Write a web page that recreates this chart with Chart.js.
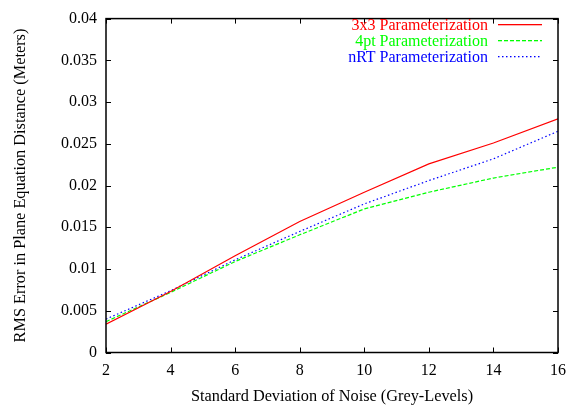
<!DOCTYPE html>
<html>
<head>
<meta charset="utf-8">
<script src="https://cdn.jsdelivr.net/npm/chart.js@4.4.0/dist/chart.umd.min.js"></script>
<style>
  html, body { margin: 0; padding: 0; background: #fff; }
  canvas { display: block; }
</style>
</head>
<body>
<canvas id="chart" width="575" height="407"></canvas>
<script>
// noise std dev (grey levels)
var noiseLevels = [2, 4, 6, 8, 10, 12, 14, 16];

// RMS error per parameterization
var err3x3 = [0.0034, 0.0073, 0.0116, 0.0157, 0.0192, 0.0226, 0.0251, 0.0280];
var err4pt = [0.0037, 0.0072, 0.0109, 0.0141, 0.0172, 0.0192, 0.0209, 0.0222];
var errNRT = [0.0040, 0.0074, 0.0111, 0.0145, 0.0178, 0.0206, 0.0232, 0.0265];

var seriesNames = ['3x3 Parameterization', '4pt Parameterization', 'nRT Parameterization'];
var seriesColors = ['#ff0000', '#00ff00', '#0000ff'];
var seriesDash = [[], [4, 2], [1.5, 2.5]];

var serif = '"Liberation Serif", "Times New Roman", serif';

function toPoints(ys) {
    return noiseLevels.map(function (x, i) { return { x: x, y: ys[i] }; });
}

// gnuplot-like frame, inward mirrored ticks and key
var gnuplotFrame = {
    id: 'gnuplotFrame',
    afterDatasetsDraw: function (chart) {
        var ctx = chart.ctx;
        var a = chart.chartArea;
        var xs = chart.scales.x, ys = chart.scales.y;
        var tl = 5;
        ctx.save();
        ctx.setLineDash([]);
        ctx.strokeStyle = '#000';
        ctx.lineWidth = 1;
        ctx.beginPath();
        xs.ticks.forEach(function (t) {
            var px = Math.round(xs.getPixelForValue(t.value)) + 0.5;
            ctx.moveTo(px, a.bottom); ctx.lineTo(px, a.bottom - tl);
            ctx.moveTo(px, a.top); ctx.lineTo(px, a.top + tl);
        });
        ys.ticks.forEach(function (t) {
            var py = Math.round(ys.getPixelForValue(t.value)) + 0.5;
            ctx.moveTo(a.left, py); ctx.lineTo(a.left + tl, py);
            ctx.moveTo(a.right, py); ctx.lineTo(a.right - tl, py);
        });
        ctx.stroke();
        ctx.lineWidth = 1.5;
        ctx.strokeRect(a.left, a.top, a.right - a.left, a.bottom - a.top);

        // key: text then a sample of the line style
        ctx.font = '16px ' + serif;
        ctx.textAlign = 'right';
        ctx.textBaseline = 'alphabetic';
        for (var i = 0; i < seriesNames.length; i++) {
            var base = 29.5 + i * 16;
            var ly = 24 + i * 16;
            ctx.fillStyle = seriesColors[i];
            ctx.fillText(seriesNames[i], 488, base);
            var dash = seriesDash[i];
            if (!dash.length) {
                ctx.fillRect(498, ly, 44, 1.3);
            } else {
                for (var x = 498; x < 542; x += dash[0] + dash[1]) {
                    ctx.fillRect(x, ly, Math.min(dash[0], 542 - x), 1.3);
                }
            }
        }
        ctx.restore();
    }
};

var ctx = document.getElementById('chart').getContext('2d');

var chart = new Chart(ctx, {
    type: 'line',
    data: {
        datasets: [0, 1, 2].map(function (i) {
            return {
                label: seriesNames[i],
                data: toPoints([err3x3, err4pt, errNRT][i]),
                borderColor: seriesColors[i],
                borderWidth: 1.2,
                borderDash: seriesDash[i],
                pointRadius: 0
            };
        })
    },
    options: {
        responsive: false,
        animation: false,
        layout: { padding: { top: 12, right: 13.5, left: 0, bottom: 0 } },
        plugins: {
            legend: { display: false },
            tooltip: { enabled: false }
        },
        scales: {
            x: {
                type: 'linear',
                min: 2,
                max: 16,
                grid: { display: false, drawTicks: false },
                border: { display: false },
                ticks: {
                    stepSize: 2,
                    padding: 9,
                    color: '#000',
                    maxRotation: 0,
                    font: { family: serif, size: 16 }
                },
                title: {
                    display: true,
                    text: 'Standard Deviation of Noise (Grey-Levels)',
                    color: '#000',
                    font: { family: serif, size: 16.3 },
                    padding: { top: 0, bottom: 0 }
                },
                afterFit: function (s) { s.height = 54.5; }
            },
            y: {
                min: 0,
                max: 0.04,
                grid: { display: false, drawTicks: false },
                border: { display: false },
                ticks: {
                    stepSize: 0.005,
                    padding: 9,
                    color: '#000',
                    font: { family: serif, size: 16 },
                    callback: function (v) { return String(+v.toFixed(3)); }
                },
                title: {
                    display: true,
                    text: 'RMS Error in Plane Equation Distance (Meters)',
                    color: '#000',
                    font: { family: serif, size: 16.3 },
                    padding: { top: 11, bottom: 0 }
                },
                afterFit: function (s) { s.width = 106; }
            }
        }
    },
    plugins: [gnuplotFrame]
});
</script>
</body>
</html>
